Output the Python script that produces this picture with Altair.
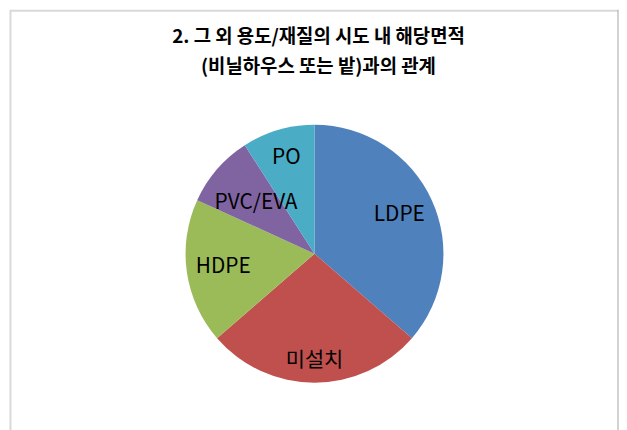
import altair as alt
import pandas as pd

categories = ["LDPE", "미설치", "HDPE", "PVC/EVA", "PO"]
values = [4, 3, 2, 1, 1]
colors = ["#4F81BD", "#C0504D", "#9BBB59", "#8064A2", "#4BACC6"]
title_lines = ["2. 그 외 용도/재질의 시도 내 해당면적", "(비닐하우스 또는 밭)과의 관계"]

# label placement (style): radial distance of each label from the pie centre
label_radius = {"LDPE": 94, "미설치": 108, "HDPE": 93, "PVC/EVA": 78, "PO": 101}

df = pd.DataFrame({"cat": categories, "value": values, "idx": list(range(len(categories)))})
df["r"] = df["cat"].map(label_radius)

FONT = "Noto Sans CJK KR"
CX, CY, R = 309, 246, 130

pie = alt.Chart(df).mark_arc(outerRadius=R).encode(
    theta=alt.Theta("value:Q", stack=True),
    order=alt.Order("idx:Q"),
    color=alt.Color("cat:N", scale=alt.Scale(domain=categories, range=colors), legend=None),
    x=alt.value(CX),
    y=alt.value(CY),
)

labels = alt.Chart(df).transform_window(
    cum="sum(value)", sort=[alt.SortField("idx")], frame=[None, 0]
).transform_joinaggregate(
    total="sum(value)"
).transform_calculate(
    mid="(datum.cum - datum.value / 2) / datum.total * 2 * PI"
).transform_calculate(
    lx=f"{CX} + datum.r * sin(datum.mid)",
    ly=f"{CY} - datum.r * cos(datum.mid)",
).mark_text(font=FONT, fontSize=21, color="#000000", align="center", baseline="middle").encode(
    text="cat:N",
    x=alt.X("lx:Q", scale=None, axis=None),
    y=alt.Y("ly:Q", scale=None, axis=None),
)

title1 = alt.Chart(pd.DataFrame({"t": [title_lines[0]]})).mark_text(
    font=FONT, fontSize=19, fontWeight="bold", color="#000000",
    align="center", baseline="middle",
).encode(text="t:N", x=alt.value(313), y=alt.value(28))
title2 = alt.Chart(pd.DataFrame({"t": [title_lines[1]]})).mark_text(
    font=FONT, fontSize=19, fontWeight="bold", color="#000000",
    align="center", baseline="middle",
).encode(text="t:N", x=alt.value(313), y=alt.value(58))

frame_df = pd.DataFrame({"k": [0]})
frame_left = alt.Chart(frame_df).mark_rule(color="#d9d9d9", strokeWidth=2).encode(
    x=alt.value(2.5), y=alt.value(0), y2=alt.value(430))
frame_top = alt.Chart(frame_df).mark_rule(color="#d9d9d9", strokeWidth=2).encode(
    x=alt.value(2.5), x2=alt.value(615), y=alt.value(1))
frame_right = alt.Chart(frame_df).mark_rule(color="#a6a6a6", strokeWidth=1).encode(
    x=alt.value(615), y=alt.value(0), y2=alt.value(430))

chart = alt.layer(frame_left, frame_top, frame_right, pie, labels, title1, title2).properties(
    width=616, height=422, padding=0, autosize=alt.AutoSizeParams(type="none"),
).configure_view(stroke=None)

chart.save("out.html", embed_options={"renderer": "svg", "actions": False})
